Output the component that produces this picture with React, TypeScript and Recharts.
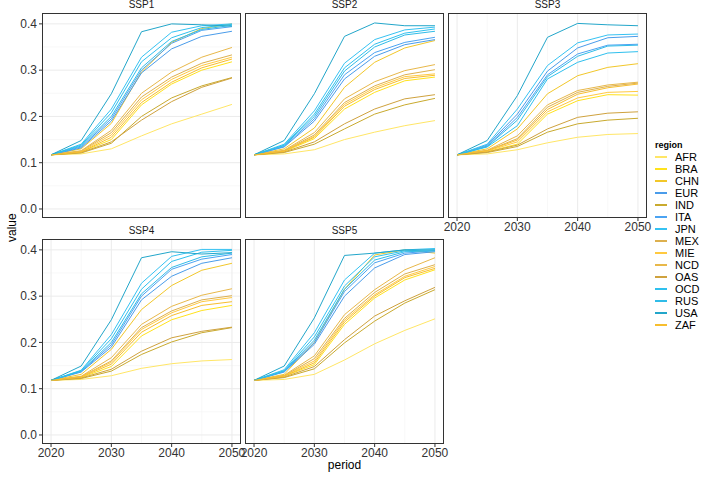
import { LineChart, Line, XAxis, YAxis, CartesianGrid } from 'recharts';

const years = [2020, 2025, 2030, 2035, 2040, 2045, 2050];
const regions = ['AFR', 'BRA', 'CHN', 'EUR', 'IND', 'ITA', 'JPN', 'MEX', 'MIE', 'NCD', 'OAS', 'OCD', 'RUS', 'USA', 'ZAF'];
const regionColors = ['#FFE666', '#FFE21C', '#F2C72A', '#4A9CEA', '#C9AA2E', '#4BA3F2', '#36C2F2', '#DDB04E', '#FFC940', '#E8B84A', '#CFA23E', '#2FC0EE', '#30BCE8', '#22A6CA', '#F7BE2E'];

const yTicks = [0, 0.1, 0.2, 0.3, 0.4];
const yMinor = [0.05, 0.15, 0.25, 0.35];
const xTicks = [2020, 2030, 2040, 2050];
const xMinor = [2025, 2035, 2045];

// valeurs, une série par région (2020..2050)
const ssp1: Record<string, number[]> = {
  AFR: [0.117, 0.119, 0.130, 0.158, 0.184, 0.205, 0.226],
  BRA: [0.117, 0.123, 0.150, 0.225, 0.270, 0.300, 0.318],
  CHN: [0.117, 0.130, 0.185, 0.296, 0.360, 0.390, 0.400],
  EUR: [0.117, 0.132, 0.190, 0.294, 0.346, 0.373, 0.384],
  IND: [0.117, 0.121, 0.142, 0.200, 0.240, 0.266, 0.284],
  ITA: [0.117, 0.134, 0.195, 0.300, 0.358, 0.386, 0.394],
  JPN: [0.117, 0.140, 0.216, 0.328, 0.382, 0.396, 0.400],
  MEX: [0.117, 0.125, 0.165, 0.242, 0.285, 0.315, 0.333],
  MIE: [0.117, 0.124, 0.160, 0.236, 0.280, 0.310, 0.328],
  NCD: [0.117, 0.126, 0.170, 0.250, 0.296, 0.328, 0.349],
  OAS: [0.117, 0.122, 0.145, 0.192, 0.232, 0.263, 0.283],
  OCD: [0.117, 0.138, 0.208, 0.318, 0.370, 0.392, 0.399],
  RUS: [0.117, 0.136, 0.200, 0.305, 0.362, 0.388, 0.397],
  USA: [0.117, 0.148, 0.249, 0.383, 0.400, 0.398, 0.395],
  ZAF: [0.117, 0.123, 0.155, 0.230, 0.274, 0.305, 0.324],
};

const ssp2: Record<string, number[]> = {
  AFR: [0.117, 0.119, 0.128, 0.150, 0.166, 0.180, 0.191],
  BRA: [0.117, 0.124, 0.152, 0.216, 0.252, 0.277, 0.285],
  CHN: [0.117, 0.130, 0.175, 0.263, 0.317, 0.348, 0.364],
  EUR: [0.117, 0.134, 0.190, 0.281, 0.330, 0.355, 0.366],
  IND: [0.117, 0.122, 0.140, 0.173, 0.205, 0.225, 0.239],
  ITA: [0.117, 0.135, 0.195, 0.290, 0.338, 0.360, 0.371],
  JPN: [0.117, 0.140, 0.212, 0.315, 0.366, 0.387, 0.393],
  MEX: [0.117, 0.126, 0.160, 0.230, 0.266, 0.290, 0.301],
  MIE: [0.117, 0.125, 0.157, 0.226, 0.262, 0.286, 0.292],
  NCD: [0.117, 0.127, 0.165, 0.238, 0.275, 0.299, 0.312],
  OAS: [0.117, 0.123, 0.145, 0.184, 0.216, 0.238, 0.247],
  OCD: [0.117, 0.138, 0.205, 0.305, 0.356, 0.380, 0.389],
  RUS: [0.117, 0.137, 0.200, 0.298, 0.350, 0.376, 0.384],
  USA: [0.117, 0.148, 0.249, 0.373, 0.402, 0.396, 0.396],
  ZAF: [0.117, 0.125, 0.155, 0.222, 0.258, 0.282, 0.289],
};

const ssp3: Record<string, number[]> = {
  AFR: [0.117, 0.119, 0.128, 0.143, 0.155, 0.161, 0.163],
  BRA: [0.117, 0.124, 0.140, 0.205, 0.234, 0.247, 0.246],
  CHN: [0.117, 0.130, 0.173, 0.249, 0.288, 0.306, 0.314],
  EUR: [0.117, 0.138, 0.205, 0.298, 0.348, 0.370, 0.373],
  IND: [0.117, 0.122, 0.135, 0.166, 0.184, 0.192, 0.196],
  ITA: [0.117, 0.136, 0.198, 0.290, 0.335, 0.354, 0.356],
  JPN: [0.117, 0.140, 0.216, 0.310, 0.359, 0.376, 0.378],
  MEX: [0.117, 0.126, 0.152, 0.220, 0.252, 0.265, 0.272],
  MIE: [0.117, 0.125, 0.145, 0.210, 0.240, 0.252, 0.254],
  NCD: [0.117, 0.127, 0.158, 0.225, 0.256, 0.268, 0.274],
  OAS: [0.117, 0.123, 0.138, 0.173, 0.198, 0.207, 0.210],
  OCD: [0.117, 0.134, 0.180, 0.281, 0.317, 0.337, 0.340],
  RUS: [0.117, 0.135, 0.192, 0.286, 0.330, 0.352, 0.354],
  USA: [0.117, 0.148, 0.245, 0.371, 0.401, 0.398, 0.396],
  ZAF: [0.117, 0.126, 0.149, 0.215, 0.248, 0.262, 0.270],
};

const ssp4: Record<string, number[]> = {
  AFR: [0.118, 0.120, 0.128, 0.144, 0.154, 0.160, 0.163],
  BRA: [0.118, 0.124, 0.148, 0.214, 0.249, 0.269, 0.280],
  CHN: [0.118, 0.131, 0.185, 0.271, 0.323, 0.356, 0.371],
  EUR: [0.118, 0.136, 0.190, 0.292, 0.343, 0.371, 0.383],
  IND: [0.118, 0.122, 0.138, 0.174, 0.201, 0.221, 0.232],
  ITA: [0.118, 0.137, 0.195, 0.300, 0.358, 0.380, 0.390],
  JPN: [0.118, 0.140, 0.217, 0.328, 0.386, 0.401, 0.401],
  MEX: [0.118, 0.126, 0.160, 0.232, 0.268, 0.292, 0.301],
  MIE: [0.118, 0.126, 0.157, 0.228, 0.264, 0.288, 0.297],
  NCD: [0.118, 0.127, 0.167, 0.239, 0.278, 0.302, 0.316],
  OAS: [0.118, 0.123, 0.142, 0.181, 0.210, 0.224, 0.233],
  OCD: [0.118, 0.139, 0.208, 0.315, 0.375, 0.395, 0.399],
  RUS: [0.118, 0.138, 0.200, 0.305, 0.362, 0.385, 0.393],
  USA: [0.118, 0.149, 0.249, 0.383, 0.396, 0.391, 0.394],
  ZAF: [0.118, 0.125, 0.153, 0.222, 0.258, 0.280, 0.288],
};

const ssp5: Record<string, number[]> = {
  AFR: [0.118, 0.120, 0.131, 0.162, 0.197, 0.226, 0.251],
  BRA: [0.118, 0.127, 0.152, 0.239, 0.296, 0.335, 0.357],
  CHN: [0.118, 0.131, 0.200, 0.315, 0.389, 0.400, 0.393],
  EUR: [0.118, 0.136, 0.196, 0.300, 0.361, 0.390, 0.396],
  IND: [0.118, 0.124, 0.143, 0.199, 0.246, 0.285, 0.314],
  ITA: [0.118, 0.137, 0.200, 0.310, 0.372, 0.393, 0.398],
  JPN: [0.118, 0.141, 0.221, 0.335, 0.393, 0.400, 0.403],
  MEX: [0.118, 0.128, 0.165, 0.252, 0.308, 0.348, 0.368],
  MIE: [0.118, 0.128, 0.160, 0.248, 0.303, 0.343, 0.364],
  NCD: [0.118, 0.129, 0.171, 0.260, 0.314, 0.357, 0.383],
  OAS: [0.118, 0.125, 0.148, 0.206, 0.257, 0.290, 0.319],
  OCD: [0.118, 0.139, 0.212, 0.322, 0.385, 0.398, 0.400],
  RUS: [0.118, 0.138, 0.205, 0.315, 0.378, 0.396, 0.398],
  USA: [0.118, 0.149, 0.253, 0.388, 0.393, 0.400, 0.400],
  ZAF: [0.118, 0.127, 0.156, 0.244, 0.300, 0.340, 0.360],
};

const FONT = '"Liberation Sans", Arial, sans-serif';
const W = 199;
const H = 205;
const YW = 40;
const XH = 22;
const RM = 16;

type PanelProps = {
  title: string;
  values: Record<string, number[]>;
  left: number;
  top: number;
  showX: boolean;
  showY: boolean;
};

function Panel({ title, values, left, top, showX, showY }: PanelProps) {
  const data = years.map((y, i) => {
    const row: any = { period: y };
    regions.forEach((r) => (row[r] = values[r][i]));
    return row;
  });
  const tickStyle = { fontSize: 12, fill: '#333', fontFamily: FONT };

  return (
    <>
      <div style={{ position: 'absolute', left, top: top - 14, width: W, textAlign: 'center', fontSize: 10, color: '#1a1a1a', fontFamily: FONT }}>
        {title}
      </div>
      <div style={{ position: 'absolute', left: left - YW, top }}>
        <LineChart width={W + YW + RM} height={H + XH} data={data} margin={{ top: 0, right: RM, bottom: 0, left: 0 }}>
          <CartesianGrid stroke="#f4f4f4" strokeWidth={0.6} horizontalValues={yMinor} verticalValues={xMinor} />
          <CartesianGrid stroke="#ebebeb" strokeWidth={1} horizontalValues={yTicks} verticalValues={xTicks} />
          <XAxis
            type="number"
            dataKey="period"
            domain={[2018.5, 2051.5]}
            ticks={xTicks}
            allowDataOverflow
            height={XH}
            axisLine={false}
            tickSize={3}
            tickLine={showX ? { stroke: '#333' } : false}
            tick={showX ? tickStyle : false}
            tickMargin={1}
          />
          <YAxis
            type="number"
            domain={[-0.0195, 0.4235]}
            ticks={yTicks}
            allowDataOverflow
            width={YW}
            axisLine={false}
            tickSize={3}
            tickLine={showY ? { stroke: '#333' } : false}
            tick={showY ? tickStyle : false}
            tickFormatter={(v: number) => v.toFixed(1)}
            tickMargin={2}
          />
          {regions.map((r, i) => (
            <Line key={r} dataKey={r} stroke={regionColors[i]} strokeWidth={1} dot={false} type="linear" isAnimationActive={false} />
          ))}
        </LineChart>
      </div>
      <div style={{ position: 'absolute', left, top, width: W, height: H, border: '1px solid #333', boxSizing: 'border-box', pointerEvents: 'none' }} />
    </>
  );
}

export default function App() {
  const lefts = [42, 245, 448];
  const tops = [13, 239];
  return (
    <div style={{ position: 'absolute', left: 0, top: 0, width: 705, height: 477, background: '#fff', fontFamily: FONT, overflow: 'hidden' }}>
      <Panel title="SSP1" values={ssp1} left={lefts[0]} top={tops[0]} showX={false} showY />
      <Panel title="SSP2" values={ssp2} left={lefts[1]} top={tops[0]} showX={false} showY={false} />
      <Panel title="SSP3" values={ssp3} left={lefts[2]} top={tops[0]} showX showY={false} />
      <Panel title="SSP4" values={ssp4} left={lefts[0]} top={tops[1]} showX showY />
      <Panel title="SSP5" values={ssp5} left={lefts[1]} top={tops[1]} showX showY={false} />

      <div style={{ position: 'absolute', left: 0, top: 222, width: 24, height: 16, transform: 'rotate(-90deg)', fontSize: 12, color: '#000', textAlign: 'center', lineHeight: '16px' }}>
        value
      </div>
      <div style={{ position: 'absolute', left: 42, top: 458, width: 605, textAlign: 'center', fontSize: 12, color: '#000' }}>period</div>

      <div style={{ position: 'absolute', left: 655, top: 139 }}>
        <div style={{ fontSize: 9, fontWeight: 'bold', color: '#000', height: 12, lineHeight: '12px' }}>region</div>
        {regions.map((r, i) => (
          <div key={r} style={{ display: 'flex', alignItems: 'center', height: 12 }}>
            <div style={{ width: 12, height: 1.5, background: regionColors[i], marginRight: 8 }} />
            <span style={{ fontSize: 11, lineHeight: '12px', height: 12, color: '#000' }}>{r}</span>
          </div>
        ))}
      </div>
    </div>
  );
}
